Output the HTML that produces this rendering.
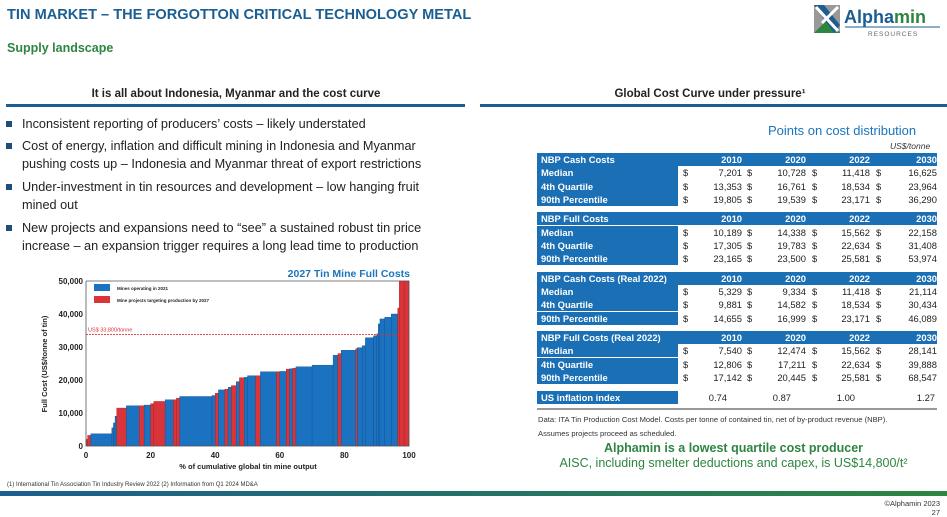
<!DOCTYPE html>
<html><head><meta charset="utf-8"><style>
body{margin:0;width:947px;height:517px;position:relative;overflow:hidden;background:#fff;font-family:"Liberation Sans",sans-serif;}
.a{position:absolute;white-space:nowrap;}
.bl{font-size:12.7px;color:#222;line-height:18px;}
.sq{position:absolute;left:6px;width:6px;height:6px;background:#1f4e79;}
.tb{position:absolute;font-size:9.4px;font-weight:bold;height:13px;line-height:13px;}
</style></head><body>
<div class="a" style="left:7px;top:7px;font-size:14.6px;font-weight:bold;color:#1b5e91;">TIN MARKET – THE FORGOTTON CRITICAL TECHNOLOGY METAL</div>
<div class="a" style="left:7px;top:41px;font-size:12.5px;font-weight:bold;color:#2e8540;">Supply landscape</div>
<div class="a" style="left:812px;top:3px;width:130px;height:34px;">
 <svg width="130" height="34"><rect x="2" y="2" width="26" height="28" fill="#999"/><polygon points="2,30 18,14 28,30" fill="#2e8540"/><polygon points="2,2 12,2 28,22 22,30" fill="#1b5e91"/><path d="M4 4 L26 28 M26 4 L10 20" stroke="#fff" stroke-width="3"/>
 <text x="32" y="20" font-size="18" font-weight="bold" fill="#1b5e91" font-family="Liberation Sans">Alpha<tspan fill="#2e8540">min</tspan></text>
 <line x1="33" y1="24" x2="128" y2="24" stroke="#1b5e91" stroke-width="1"/>
 <text x="56" y="33" font-size="6.5" fill="#666" font-family="Liberation Sans" letter-spacing="1">RESOURCES</text></svg></div>

<div class="a" style="left:6px;width:460px;top:88px;text-align:center;font-size:11.5px;font-weight:bold;color:#222;">It is all about Indonesia, Myanmar and the cost curve</div>
<div class="a" style="left:6px;top:104px;width:459px;height:3px;background:#1b5e91;"></div>
<div class="a" style="left:480px;width:460px;top:88px;text-align:center;font-size:11.5px;font-weight:bold;color:#222;">Global Cost Curve under pressure¹</div>
<div class="a" style="left:480px;top:104px;width:467px;height:3px;background:#1b5e91;"></div>

<div>
<div class="sq" style="top:121px"></div><div class="a bl" style="left:22px;top:115px;">Inconsistent reporting of producers’ costs – likely understated</div>
<div class="sq" style="top:143px"></div><div class="a bl" style="left:22px;top:137px;">Cost of energy, inflation and difficult mining in Indonesia and Myanmar<br>pushing costs up – Indonesia and Myanmar threat of export restrictions</div>
<div class="sq" style="top:184px"></div><div class="a bl" style="left:22px;top:178px;">Under-investment in tin resources and development – low hanging fruit<br>mined out</div>
<div class="sq" style="top:225px"></div><div class="a bl" style="left:22px;top:219px;">New projects and expansions need to “see” a sustained robust tin price<br>increase – an expansion trigger requires a long lead time to production</div>
</div>

<svg id="chart" class="a" style="left:0;top:0" width="947" height="517"></svg>

<div class="a" style="left:768px;top:123px;font-size:13px;color:#1b75bc;">Points on cost distribution</div>
<div class="a" style="left:890px;top:141px;font-size:8.5px;font-style:italic;color:#333;">US$/tonne</div>
<div id="tbl"></div>
<div class="a" style="left:537px;top:408px;width:400px;height:2px;background:#999;"></div>
<div class="a" style="left:538px;top:413px;font-size:7.6px;color:#333;line-height:14px;">Data: ITA Tin Production Cost Model. Costs per tonne of contained tin, net of by-product revenue (NBP).<br>Assumes projects proceed as scheduled.</div>
<div class="a" style="left:520px;width:427px;text-align:center;top:441px;font-size:12.5px;font-weight:bold;color:#2e8540;">Alphamin is a lowest quartile cost producer</div>
<div class="a" style="left:520px;width:427px;text-align:center;top:456px;font-size:12.5px;color:#2e8540;">AISC, including smelter deductions and capex, is US$14,800/t²</div>
<div class="a" style="left:7px;top:482px;font-size:6px;color:#333;">(1) International Tin Association Tin Industry Review 2022 (2) Information from Q1 2024 MD&amp;A</div>
<div class="a" style="left:0;top:491px;width:947px;height:5px;background:linear-gradient(90deg,#1b5e91,#2e8540);"></div>
<div class="a" style="left:860px;top:499px;width:80px;text-align:right;font-size:7.5px;color:#333;line-height:9px;">©Alphamin 2023<br>27</div>

<script>
// chart data
const segStart=[0,0.5,1.5,8,8.5,9,9.5,12.5,16.5,18,20,21,24.5,27,28,29,39,40,41,43,44,45,46.5,47.5,49,50,52.5,54,59,60,62,63,64,65,70,76.5,78,79,83.5,84,85.5,86.5,89,90,90.5,91,92.5,94.5,96.5,97,98.5];
const segEnd=[0.5,1.5,8,8.5,9,9.5,12.5,16.5,18,20,21,24.5,27,28,29,39,40,41,43,44,45,46.5,47.5,49,50,52.5,54,59,60,62,63,64,65,70,76.5,78,79,83.5,84,85.5,86.5,89,90,90.5,91,92.5,94.5,96.5,97,98.5,100];
const segCost=[2000,3200,3700,5500,7000,9000,11500,12200,12200,12400,12800,13500,14000,14000,14500,15000,15300,16000,17000,17200,17800,18300,19500,20700,20800,21300,21300,22500,22500,22600,23300,23400,23600,24000,24500,27500,28000,29000,29500,29800,30400,32800,33400,34000,37000,38500,39000,40000,41800,50000,50000];
const segType=["r","r","b","b","b","b","r","b","r","b","r","r","b","r","r","b","b","r","b","r","b","r","b","r","b","b","r","b","r","b","r","b","r","b","b","b","r","b","r","b","b","b","b","b","b","b","b","b","r","r","r"];
const yTicks=[0,10000,20000,30000,40000,50000];
const yTickLabels=["0","10,000","20,000","30,000","40,000","50,000"];
const xTicks=[0,20,40,60,80,100];
const thresholdValue=33800;
const NS="http://www.w3.org/2000/svg";
const svg=document.getElementById('chart');
const X=v=>86+v/100*323, Y=v=>446-v/50000*165;
function mk(t,a,txt){const e=document.createElementNS(NS,t);for(const k in a)e.setAttribute(k,a[k]);if(txt!==undefined)e.textContent=txt;svg.appendChild(e);return e;}
for(let i=0;i<segStart.length;i++){
 const r=mk('rect',{x:X(segStart[i]),y:Y(segCost[i]),width:X(segEnd[i])-X(segStart[i]),height:Y(0)-Y(segCost[i]),fill:segType[i]=="r"?"#d9343a":"#1b72c0",stroke:segType[i]=="r"?"#a02020":"#15508a","stroke-width":0.4});
 
 
}
const axes=mk('path',{d:`M${X(0)} ${Y(50000)} V${Y(0)} H${X(100)} V${Y(50000)} H${X(0)}`,fill:"none",stroke:"#555","stroke-width":0.8});


yTicks.forEach((v,i)=>{const t=mk('text',{x:83,y:Y(v)+3,"text-anchor":"end","font-size":8,"font-weight":"bold",fill:"#222","font-family":"Liberation Sans"},yTickLabels[i]);
 
 });
xTicks.forEach(v=>{const t=mk('text',{x:X(v),y:458,"text-anchor":"middle","font-size":8,"font-weight":"bold",fill:"#222","font-family":"Liberation Sans"},String(v));
 
 });
const th=mk('line',{x1:X(0),x2:X(100),y1:Y(thresholdValue),y2:Y(thresholdValue),stroke:"#d9343a","stroke-width":0.8,"stroke-dasharray":"2,1"});


const tl=mk('text',{x:88,y:Y(thresholdValue)-3,"font-size":5.5,fill:"#d9343a","font-family":"Liberation Sans"},"US$ 33,800/tonne");


const xt=mk('text',{x:248,y:469,"text-anchor":"middle","font-size":7.5,"font-weight":"bold",fill:"#222","font-family":"Liberation Sans"},"% of cumulative global tin mine output");


const yt=mk('text',{x:0,y:0,transform:"translate(47,364) rotate(-90)","text-anchor":"middle","font-size":7.5,"font-weight":"bold",fill:"#222","font-family":"Liberation Sans"},"Full Cost (US$/tonne of tin)");


const ct=mk('text',{x:410,y:277,"text-anchor":"end","font-size":10.5,"font-weight":"bold",fill:"#1b75bc","font-family":"Liberation Sans"},"2027 Tin Mine Full Costs");


[["#1b72c0","Mines operating in 2021",286],["#d9343a","Mine projects targeting production by 2027",298]].forEach(l=>{
 const s=mk('rect',{x:94,y:l[2]-2,width:16,height:7,fill:l[0]});
 
 
 const t=mk('text',{x:117,y:l[2]+4,"font-size":4.5,"font-weight":"bold",fill:"#222","font-family":"Liberation Sans"},l[1]);
 
 
});

// table
const blockTitles=["NBP Cash Costs","NBP Full Costs","NBP Cash Costs (Real 2022)","NBP Full Costs (Real 2022)"];
const years=["2010","2020","2022","2030"];
const rowLabels=["Median","4th Quartile","90th Percentile"];
const tableVals=[
 [["7,201","10,728","11,418","16,625"],["13,353","16,761","18,534","23,964"],["19,805","19,539","23,171","36,290"]],
 [["10,189","14,338","15,562","22,158"],["17,305","19,783","22,634","31,408"],["23,165","23,500","25,581","53,974"]],
 [["5,329","9,334","11,418","21,114"],["9,881","14,582","18,534","30,434"],["14,655","16,999","23,171","46,089"]],
 [["7,540","12,474","15,562","28,141"],["12,806","17,211","22,634","39,888"],["17,142","20,445","25,581","68,547"]]];
const inflation=["0.74","0.87","1.00","1.27"];
const tbl=document.getElementById('tbl');
const colRight=[742,806,870,937], dollarX=[683,747,812,876];
function cell(txt,l,t,w,style,name){const d=document.createElement('div');d.className='tb';d.style.left=l+'px';d.style.top=t+'px';if(w)d.style.width=w+'px';d.style.cssText+=style;d.textContent=txt;
 
 
 tbl.appendChild(d);return d;}
blockTitles.forEach((bt,b)=>{
 const top=153+b*59.3;
 cell(bt,537,top,396,"background:#1b6fb5;color:#fff;padding-left:4px;","table-header-row");
 years.forEach((y,j)=>cell(y,colRight[j]-40,top,40,"color:#fff;text-align:right;","year-header"));
 rowLabels.forEach((rl,r)=>{
  const rt=top+13.3*(r+1);
  cell(rl,537,rt,137,"background:#1b6fb5;color:#fff;padding-left:4px;height:13.3px;","row-label");
  tableVals[b][r].forEach((v,j)=>{
   cell("$",dollarX[j],rt,8,"color:#222;font-weight:normal;","dollar-sign");
   cell(v,colRight[j]-50,rt,50,"color:#222;font-weight:normal;text-align:right;","table-value");
  });
 });
});
cell("US inflation index",537,391,137,"background:#1b6fb5;color:#fff;padding-left:4px;","inflation-label");
inflation.forEach((v,j)=>cell(v,colRight[j]-40-(j<3?15:2),391,40,"color:#222;font-weight:normal;text-align:right;","inflation-value"));
</script>
</body></html>
